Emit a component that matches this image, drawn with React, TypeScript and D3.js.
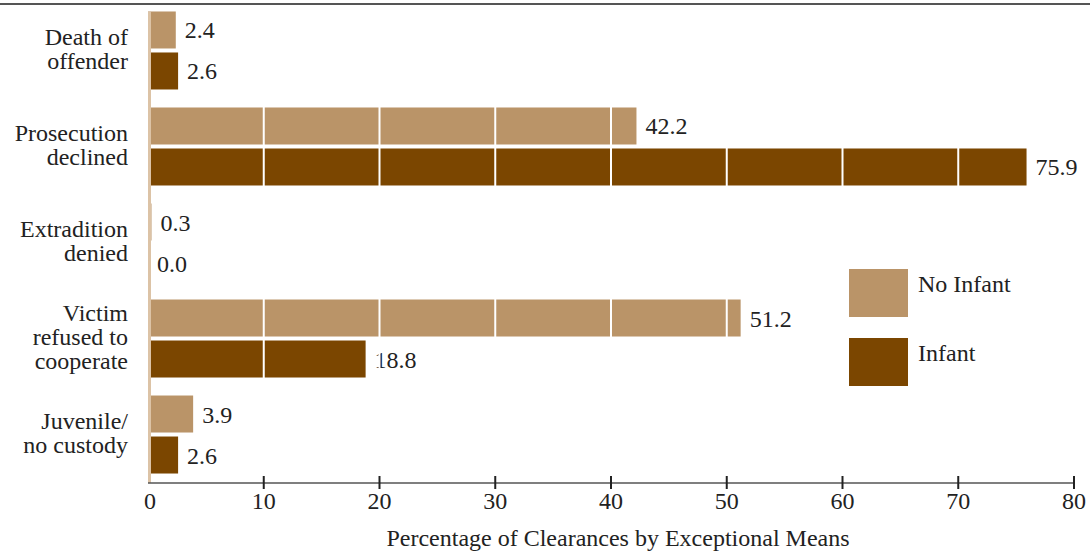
import React from "react";
import * as d3 from "d3";

const categories = [
  ["Death of", "offender"],
  ["Prosecution", "declined"],
  ["Extradition", "denied"],
  ["Victim", "refused to", "cooperate"],
  ["Juvenile/", "no custody"],
];
const noInfant = [2.4, 42.2, 0.3, 51.2, 3.9];
const infant = [2.6, 75.9, 0.0, 18.8, 2.6];
const ticks = [0, 10, 20, 30, 40, 50, 60, 70, 80];
const seriesNames = ["No Infant", "Infant"];
const colors = ["#BA9468", "#7B4600"];

const W = 1090;
const H = 554;
const FONT = "'Liberation Serif', 'Times New Roman', serif";
const FS = 24;

export default function App() {
  const x = d3.scaleLinear().domain([0, 80]).range([148, 1074]);
  const y = d3
    .scaleBand<number>()
    .domain(d3.range(categories.length))
    .range([2, 483])
    .paddingInner(0.19)
    .paddingOuter(0.1);
  const bh = 37;
  const gap = 4;
  const series = [noInfant, infant];

  return (
    <svg
      width={W}
      height={H}
      style={{ position: "absolute", left: 0, top: 0, background: "#fff" }}
      fontFamily={FONT}
    >
      <line x1={0} x2={W} y1={4} y2={4} stroke="#555" strokeWidth={2} />
      {categories.map((lines, i) => {
        const top = (y(i) as number) + (y.bandwidth() - (2 * bh + gap)) / 2;
        const cy = top + bh + gap / 2;
        return (
          <g key={i}>
            {series.map((s, k) => {
              const by = top + k * (bh + gap);
              return (
                <g key={k}>
                  <rect
                    x={x(0)}
                    y={by}
                    width={Math.max(0, x(s[i]) - x(0))}
                    height={bh}
                    fill={colors[k]}
                  />
                  <text
                    x={x(s[i]) + 9}
                    y={by + bh / 2 + 8.5}
                    fontSize={FS}
                    fill="#222"
                  >
                    {s[i].toFixed(1)}
                  </text>
                </g>
              );
            })}
            <text
              textAnchor="end"
              fontSize={FS}
              fill="#222"
              x={128}
              y={cy - ((lines.length - 1) * 24) / 2 + 6.5}
            >
              {lines.map((l, j) => (
                <tspan key={j} x={128} dy={j === 0 ? 0 : 24}>
                  {l}
                </tspan>
              ))}
            </text>
          </g>
        );
      })}
      {ticks
        .filter((t) => t > 0 && t < 80)
        .map((t) => (
          <line
            key={"g" + t}
            x1={x(t)}
            x2={x(t)}
            y1={8}
            y2={476}
            stroke="#fff"
            strokeWidth={2}
          />
        ))}
      <line x1={149.5} x2={149.5} y1={12} y2={483} stroke="#DCC3A6" strokeWidth={3} />
      <line x1={148} x2={1075} y1={483} y2={483} stroke="#555" strokeWidth={1.5} />
      {ticks.map((t) => (
        <g key={t}>
          {t > 0 && (
            <line x1={x(t)} x2={x(t)} y1={476} y2={489} stroke="#222" strokeWidth={2} />
          )}
          <text x={x(t) + (t === 0 ? 2 : 0)} y={509} textAnchor="middle" fontSize={FS} fill="#222">
            {t}
          </text>
        </g>
      ))}
      <text x={618} y={546} textAnchor="middle" fontSize={FS} fill="#222">
        Percentage of Clearances by Exceptional Means
      </text>
      {seriesNames.map((n, k) => (
        <g key={n}>
          <rect x={849} y={269 + k * 69} width={59} height={48} fill={colors[k]} />
          <text x={918} y={292 + k * 69} fontSize={FS} fill="#222">
            {n}
          </text>
        </g>
      ))}
    </svg>
  );
}
